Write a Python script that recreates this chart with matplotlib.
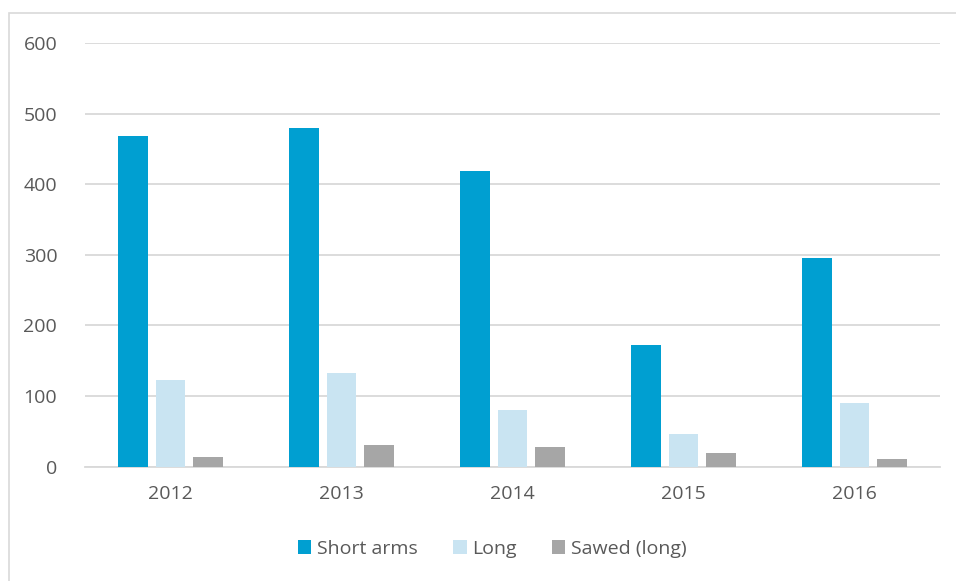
import numpy as np
import matplotlib.pyplot as plt
from matplotlib.patches import Rectangle

years = ['2012', '2013', '2014', '2015', '2016']
short_arms = [468, 480, 419, 173, 296]
long_guns = [123, 133, 80, 46, 90]
sawed_long = [14, 31, 28, 19, 11]

series = [('Short arms', short_arms, '#009FD1'),
          ('Long', long_guns, '#C9E4F2'),
          ('Sawed (long)', sawed_long, '#A6A6A6')]

plt.rcParams['font.family'] = ['Open Sans', 'DejaVu Sans']
text_col = '#595959'

fig = plt.figure(figsize=(9.56, 5.81), dpi=100)
ax = fig.add_axes([85/956, 1 - 466.7/581, 855/956, (466.7 - 43)/581])

x = np.arange(len(years))
w = 0.175
step = 0.222
for i, (name, vals, col) in enumerate(series):
    ax.bar(x + (i - 1) * step, vals, width=w, color=col, label=name, zorder=3)

ax.set_xlim(-0.5, len(years) - 0.5)
ax.set_ylim(0, 600)
ax.set_yticks(range(0, 601, 100))
ax.set_xticks(x)
ax.set_xticklabels(years)
ax.grid(axis='y', color='#D9D9D9', linewidth=1.3, zorder=0)
for s in ['top', 'right', 'left']:
    ax.spines[s].set_visible(False)
ax.spines['bottom'].set_color('#D9D9D9')
ax.spines['bottom'].set_linewidth(1.3)
ax.tick_params(axis='both', length=0, labelsize=14, colors=text_col)
ax.tick_params(axis='y', pad=20)
ax.tick_params(axis='x', pad=13)

fig.legend(loc='center', bbox_to_anchor=(0.515, 1 - 549/581), ncol=3,
           frameon=False, fontsize=14, handlelength=0.7, handleheight=0.7,
           handletextpad=0.3, columnspacing=1.8, labelcolor=text_col)

fig.patches.append(Rectangle((9/956, -0.01), 1.0, 1 - 13/581 + 0.01,
                             transform=fig.transFigure, fill=False,
                             edgecolor='#D9D9D9', linewidth=1.2))

fig.savefig('out.png', dpi=100)
